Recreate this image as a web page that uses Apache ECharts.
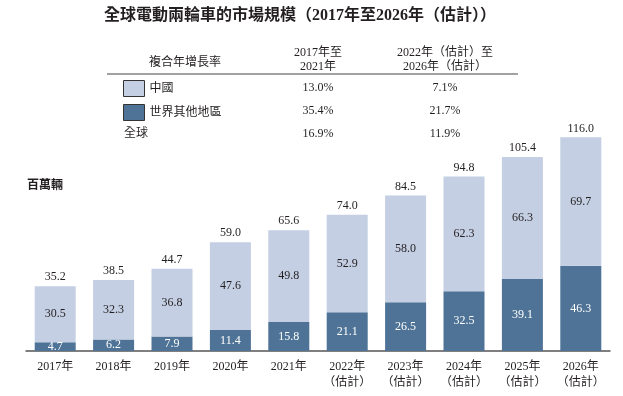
<!DOCTYPE html>
<html>
<head>
<meta charset="utf-8">
<script src="https://cdn.jsdelivr.net/npm/echarts@6/dist/echarts.min.js"></script>
<style>
html,body{margin:0;padding:0;background:#fff;}
#chart{width:623px;height:396px;}
</style>
</head>
<body>
<div id="chart"></div>
<script>
// 數據
var years = ['2017年','2018年','2019年','2020年','2021年','2022年\n（估計）','2023年\n（估計）','2024年\n（估計）','2025年\n（估計）','2026年\n（估計）'];
var chinaData = [30.5, 32.3, 36.8, 47.6, 49.8, 52.9, 58.0, 62.3, 66.3, 69.7];//中國
var restData = [4.7, 6.2, 7.9, 11.4, 15.8, 21.1, 26.5, 32.5, 39.1, 46.3];//世界其他地區
var totalData = [35.2, 38.5, 44.7, 59.0, 65.6, 74.0, 84.5, 94.8, 105.4, 116.0];//全球
var cagrHead = ['複合年增長率', '2017年至\n2021年', '2022年（估計）至\n2026年（估計）'];
var cagrChina = ['13.0%', '7.1%'];
var cagrRest = ['35.4%', '21.7%'];
var cagrGlobal = ['16.9%', '11.9%'];

var FONT = "'Liberation Serif','Noto Sans CJK TC'";
var TXT = '#231f20';
var LIGHT = '#c4cfe3';
var DARK = '#4e7396';

function txt(s, x, y, opt) {
    opt = opt || {};
    return {
        type: 'text',
        style: {
            text: s, x: x, y: y,
            align: opt.align || 'center',
            verticalAlign: 'middle',
            fontFamily: FONT,
            fontSize: opt.size || 12,
            fontWeight: opt.weight || 'normal',
            lineHeight: 14,
            fill: TXT
        }
    };
}

var graphics = [
    txt('全球電動兩輪車的市場規模（2017年至2026年（估計））', 300, 16, {size: 16, weight: 'bold'}),
    txt(cagrHead[0], 185, 63),
    txt(cagrHead[1], 318, 60),
    txt(cagrHead[2], 445, 60),
    {type: 'line', shape: {x1: 107, y1: 74, x2: 518, y2: 74}, style: {stroke: '#444', lineWidth: 1}},
    txt('全球', 124, 134, {align: 'left'}),
    txt('百萬輛', 27, 186, {align: 'left', weight: 'bold'})
];
var rowsY = [88, 111, 134];
var rows = [cagrChina, cagrRest, cagrGlobal];
for (var i = 0; i < rows.length; i++) {
    graphics.push(txt(rows[i][0], 318, rowsY[i]));
    graphics.push(txt(rows[i][1], 445, rowsY[i]));
}

var myChart = echarts.init(document.getElementById('chart'));
var option = {
    animation: false,
    textStyle: {fontFamily: FONT},
    grid: {left: 26, right: 13, top: 130, bottom: 45},
    legend: {
        orient: 'vertical',
        left: 123,
        top: 80,
        padding: 0,
        itemWidth: 21,
        itemHeight: 16,
        itemGap: 7,
        icon: 'rect',
        data: ['中國', '世界其他地區'],
        itemStyle: {borderColor: '#333', borderWidth: 1},
        textStyle: {fontSize: 12, color: TXT, fontFamily: FONT}
    },
    xAxis: {
        type: 'category',
        data: years,
        axisTick: {show: false},
        axisLine: {lineStyle: {color: '#555', width: 1.5}},
        axisLabel: {interval: 0, color: TXT, fontSize: 12, margin: 8, lineHeight: 16, fontFamily: FONT}
    },
    yAxis: {
        type: 'value',
        min: 0,
        max: 120,
        show: false
    },
    series: [
        {
            name: '世界其他地區',
            type: 'bar',
            stack: 'total',
            barWidth: 41,
            data: restData,
            itemStyle: {color: DARK},
            label: {
                show: true, position: 'inside', color: '#fff', fontSize: 12, fontFamily: FONT,
                formatter: function (p) { return p.value.toFixed(1); }
            }
        },
        {
            name: '中國',
            type: 'bar',
            stack: 'total',
            barWidth: 41,
            data: chinaData,
            itemStyle: {color: LIGHT},
            label: {
                show: true, position: 'inside', color: TXT, fontSize: 12, fontFamily: FONT,
                formatter: function (p) { return p.value.toFixed(1); }
            }
        },
        {
            // 總數標籤，用零高度柱子放在堆疊頂部
            name: '全球',
            type: 'bar',
            stack: 'total',
            barWidth: 41,
            data: totalData.map(function () { return 0; }),
            itemStyle: {color: LIGHT},
            label: {
                show: true, position: 'top', distance: 3, color: TXT, fontSize: 12, fontFamily: FONT,
                formatter: function (p) { return totalData[p.dataIndex].toFixed(1); }
            }
        }
    ],
    graphic: graphics
};
myChart.setOption(option);
</script>
</body>
</html>
